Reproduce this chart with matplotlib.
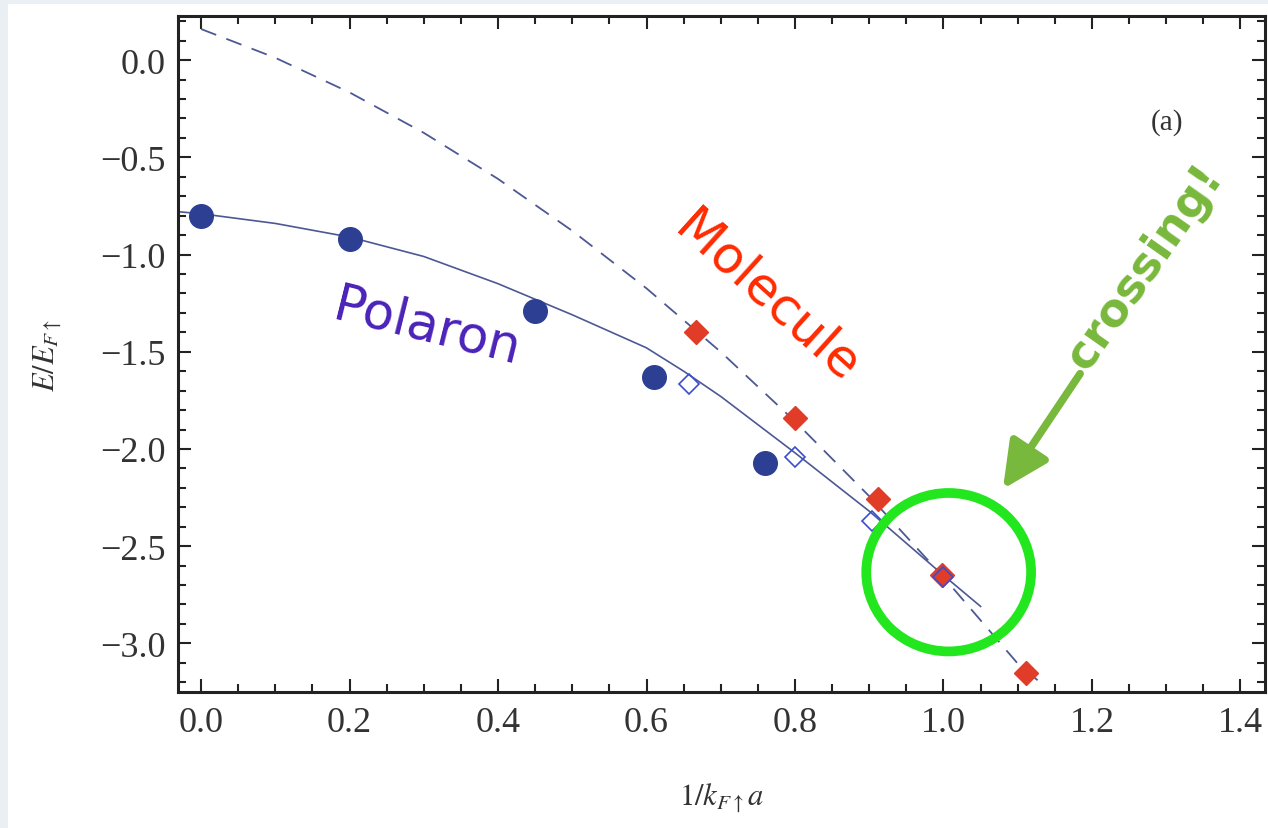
import matplotlib
matplotlib.use("Agg")
import matplotlib.pyplot as plt
from matplotlib.ticker import MultipleLocator
from matplotlib.patches import Ellipse, Rectangle, FancyArrowPatch

# ------------------ Data ------------------
# polaron energies, filled circles
pol_x = [0.0, 0.2, 0.45, 0.61, 0.76]
pol_y = [-0.80, -0.92, -1.29, -1.63, -2.07]

# open diamonds
open_x = [0.657, 0.80, 0.904, 1.0]
open_y = [-1.665, -2.04, -2.37, -2.66]

# molecule energies, red diamonds
mol_x = [0.667, 0.80, 0.912, 0.998, 1.111]
mol_y = [-1.40, -1.84, -2.26, -2.65, -3.15]

# polaron curve (solid)
pol_fit_x = [-0.03, 0.0, 0.1, 0.2, 0.3, 0.4, 0.5, 0.6, 0.65, 0.7, 0.8, 0.9, 1.0, 1.05]
pol_fit_y = [-0.78, -0.79, -0.84, -0.91, -1.01, -1.15, -1.31, -1.48, -1.60, -1.73, -2.02, -2.32, -2.65, -2.81]

# molecule curve (dashed)
mol_fit_x = [0.0, 0.1, 0.2, 0.3, 0.4, 0.5, 0.6, 0.7, 0.8, 0.9, 1.0, 1.1, 1.13]
mol_fit_y = [0.16, 0.012, -0.166, -0.374, -0.611, -0.878, -1.174, -1.501, -1.858, -2.243, -2.659, -3.104, -3.20]

# ------------------ Style ------------------
plt.rcParams['font.family'] = ['Liberation Serif', 'DejaVu Serif']
plt.rcParams['mathtext.fontset'] = 'stix'

fig = plt.figure(figsize=(12.68, 8.29), dpi=100)
fig.patch.set_facecolor('#e9eff3')
bg = Rectangle((8 / 1268, 0), 1, 1 - 5 / 829, transform=fig.transFigure,
               facecolor='white', edgecolor='none', zorder=-10)
fig.add_artist(bg)

ax = fig.add_axes([0.1404, 0.1641, 0.8572, 0.8154])
ax.set_facecolor('white')

line_col = '#4d5894'
ax.plot(pol_fit_x, pol_fit_y, color=line_col, lw=1.2, zorder=2)
ax.plot(mol_fit_x, mol_fit_y, color=line_col, lw=1.3, dashes=(9, 6), zorder=2)

ax.plot(pol_x, pol_y, 'o', ms=17, color='#2c3f92', zorder=3)
ax.plot(mol_x, mol_y, 'D', ms=12, color='#e03c28', zorder=4)
ax.plot(open_x, open_y, 'D', ms=10, mfc='none', mec='#3a4fd0', mew=1.2, zorder=5)

ax.set_xlim(-0.031, 1.433)
ax.set_ylim(-3.25, 0.227)

ax.xaxis.set_major_locator(MultipleLocator(0.2))
ax.xaxis.set_minor_locator(MultipleLocator(0.05))
ax.yaxis.set_major_locator(MultipleLocator(0.5))
ax.yaxis.set_minor_locator(MultipleLocator(0.1))
ax.tick_params(which='both', direction='in', top=True, right=True, width=1.5,
               colors='#222222', labelcolor='#333333', labelsize=26)
ax.tick_params(which='major', length=9.5)
ax.tick_params(which='minor', length=5.5)
ax.tick_params(axis='y', pad=9)
ax.tick_params(axis='x', pad=10)
for sp in ax.spines.values():
    sp.set_linewidth(2.2)
    sp.set_color('#222222')

ax.set_xlabel(r'$1/k_{F\uparrow}a$', fontsize=22, color='#333333', labelpad=30)
ax.set_ylabel(r'$E/E_{F\uparrow}$', fontsize=22, color='#333333', labelpad=26)

# panel label
ax.text(1.301, -0.314, '(a)', fontsize=21, color='#333333', ha='center', va='center')

# ------------------ Annotations ------------------
ax.text(0.304, -1.37, 'Polaron', fontsize=37, color='#4b22b8', rotation=-14,
        ha='center', va='center', rotation_mode='anchor', family='DejaVu Sans')
ax.text(0.762, -1.215, 'Molecule', fontsize=37, color='#ff2a00', rotation=-42,
        ha='center', va='center', rotation_mode='anchor', family='DejaVu Sans')
ax.text(1.271, -1.06, 'crossing!', fontsize=33, color='#78b83c', rotation=55,
        ha='center', va='center', rotation_mode='anchor', family='DejaVu Sans',
        fontweight='bold')

arrow = FancyArrowPatch((1.184, -1.613), (1.080, -2.206),
                        arrowstyle='-|>,head_length=0.7,head_width=0.34',
                        mutation_scale=40, color='#78b83c', lw=5.5,
                        shrinkA=0, shrinkB=0, zorder=6)
ax.add_patch(arrow)

ring = Ellipse((1.007, -2.634), 0.222, 0.815, fill=False, edgecolor='#22e61e',
               lw=7, zorder=6)
ax.add_patch(ring)

fig.savefig('out.png', dpi=100, facecolor=fig.get_facecolor())
